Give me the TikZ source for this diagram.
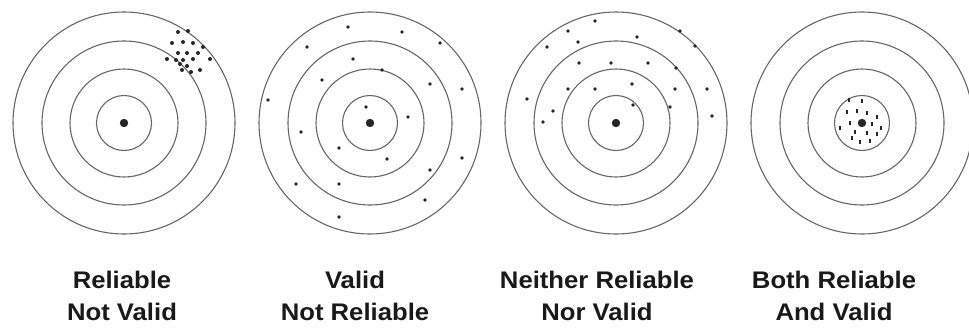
\documentclass[tikz,border=0pt]{standalone}
\usepackage{fontspec}
\setmainfont{Liberation Sans}
\begin{document}
\begin{tikzpicture}[x=1pt, y=-1pt,
	ring/.style={draw=black!60, line width=1.1pt},
	hit/.style={fill=black!85},
	caption/.style={font=\fontsize{24}{32}\selectfont\bfseries, text=black!90, align=center, anchor=base, xscale=1.07}]

	\clip (0,0) rectangle (969,327);

	% targets
	\foreach \t/\cx in {A/124, B/370, C/616, D/862} {
		\coordinate (\t) at (\cx,123);
		\foreach \r in {111, 82, 54, 27.5}
			\draw[ring] (\t) circle (\r pt);
		\fill[hit] (\t) circle (4.2pt);
	}

	% hits
	\foreach \x/\y in {178/32, 188/31, 172/43, 183/42, 193/43, 203/47, 178/53, 187/53, 198/53, 210/59,
		167/59, 176/60, 183/60, 193/59, 180/64, 187/66, 182/70, 191/72, 200/70}
		\fill[hit] (\x,\y) circle (2pt);
	\foreach \x/\y in {348/27, 402/32, 440/43, 307/47, 353/59, 382/70, 322/80, 430/84, 462/89, 268/100,
		366/107, 408/117, 301/132, 339/148, 387/159, 462/158, 430/170, 296/184, 339/184, 425/200, 339/217}
		\fill[hit] (\x,\y) circle (1.9pt);
	\foreach \x/\y in {595/21, 568/31, 680/31, 578/42, 637/37, 547/47, 695/46, 579/63, 611/63, 648/63,
		676/68, 568/89, 595/89, 632/84, 675/89, 707/89, 527/99, 553/111, 633/105, 670/107, 543/122, 712/116}
		\fill[hit] (\x,\y) circle (1.9pt);
	\foreach \x/\y in {849/100, 862/101, 847/112, 857/111, 867/113, 877/117, 850/123, 872/124, 881/128,
		840/128, 855/132, 867/133, 877/134, 852/138, 860/142, 870/141}
		\fill[hit] (\x-1.2,\y-2.4) rectangle (\x+1.2,\y+2.4);

	% labels
	\node[caption] (lA) at (122,320) {Reliable\\Not Valid};
	\node[caption] (lB) at (355,320) {Valid\\Not Reliable};
	\node[caption] (lC) at (597,320) {Neither Reliable\\Nor Valid};
	\node[caption] (lD) at (834,320) {Both Reliable\\And Valid};

\end{tikzpicture}
\end{document}
